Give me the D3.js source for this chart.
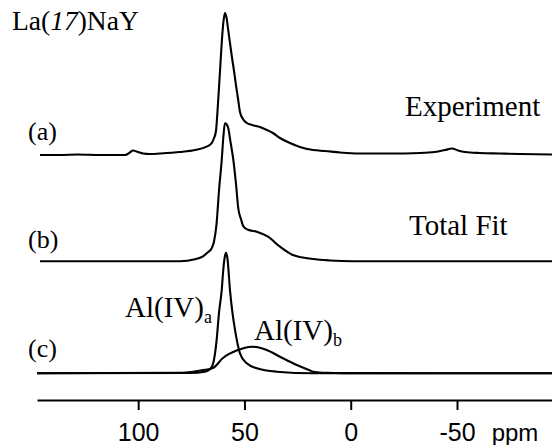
<!DOCTYPE html>
<html>
<head>
<meta charset="utf-8">
<script src="https://cdn.jsdelivr.net/npm/d3@7"></script>
<style>
  html, body { margin: 0; padding: 0; background: #fff; }
  svg { display: block; }
</style>
</head>
<body>
<svg id="chart" width="552" height="445"></svg>
<script>
// ---- data (intensity in arbitrary units) ----
const expPpm = [146.2,136.8,128.3,118.0,106.2,103.9,102.5,100.1,97.7,94.5,89.8,80.3,73.3,67.8,65.4,64.3,63.4,62.4,61.5,60.6,59.9,59.2,58.4,57.7,56.8,55.9,54.9,54.0,53.0,52.1,50.7,48.9,46.4,42.7,39.4,36.6,33.3,28.6,23.9,17.7,12.1,5.0,-4.4,-18.5,-32.6,-39.6,-44.4,-47.7,-50.5,-53.8,-60.8,-70.2,-79.6,-94.7];
const expInt = [0,0,0.5,0,0,2.5,4.5,3,1.5,1,1.5,3,5,8.3,12,17,24,53,84,115,133,142,137,126,112,98,84,70,56,43,36,32,30,28,25,22,17,12,8,5,4,2.5,1.5,1.5,2,3,5,6.5,4.5,3,2,1.5,1,0.5];

const fitPpm = [146.2,80.3,73.3,69.5,67.2,65.4,64.3,63.1,62.0,60.7,59.9,59.2,58.4,57.6,56.6,55.2,54.0,52.9,51.6,50.5,48.3,44.2,38.9,33.3,27.2,17.8,9.7,-0.6,-94.7];
const fitInt = [0,0,2,5,9,13,20,38,70,101,125,138,137,133,120,101,78,53,42,35,31.5,29.6,24.6,14.6,6.3,2.3,0.8,0,0];

const aPpm = [147.6,75.6,68.6,66.2,64.7,63.1,62.0,60.7,59.9,59.2,58.7,58.0,56.8,55.6,54.4,52.1,48.9,44.2,34.8,17.7,-94.7];
const aInt = [0,0.3,1.5,4,10,33,60,83,105,117,120.6,115,83,60,43,20,10,5,1.6,0,0];

const bPpm = [147.6,80.3,74.2,68.6,64.8,60.1,53.0,49.7,46.6,43.2,39.5,33.3,25.4,19.6,17.7,11.3,3.6,-94.7];
const bInt = [0,0.5,1.6,3.5,5.3,15.3,23.3,25.6,26.6,25.8,23.3,16.6,8.3,3.3,1.6,0.5,0.2,0];

const traceOffsets = [218.3, 112, 0, 0];      // (a) Experiment, (b) Total Fit, (c) components
const tickValues = [100, 50, 0, -50];
const axisUnit = "ppm";

// ---- drawing ----
const svg = d3.select("#chart");
const x = d3.scaleLinear().domain([147.6, -94.7]).range([37, 552]);
const y = d3.scaleLinear().domain([0, 360]).range([373.3, 13.3]);

const series = [
  {ppm: expPpm, val: expInt, off: traceOffsets[0]},
  {ppm: fitPpm, val: fitInt, off: traceOffsets[1]},
  {ppm: aPpm,   val: aInt,   off: traceOffsets[2]},
  {ppm: bPpm,   val: bInt,   off: traceOffsets[3]}
];

const line = d3.line()
  .x(d => x(d[0]))
  .y(d => y(d[1]))
  .curve(d3.curveMonotoneX);

series.forEach(s => {
  const pts = s.ppm.map((p, i) => [p, s.val[i] + s.off]);
  svg.append("path")
    .attr("d", line(pts))
    .attr("fill", "none")
    .attr("stroke", "#000")
    .attr("stroke-width", 2.1)
    .attr("stroke-linejoin", "round");
});

// axis
const axis = d3.axisBottom(x)
  .tickValues(tickValues)
  .tickSize(10)
  .tickSizeOuter(0)
  .tickFormat(d => String(d));

const gAxis = svg.append("g").attr("transform", "translate(0,400)").call(axis);
gAxis.select(".domain").attr("stroke-width", 2);
gAxis.selectAll(".tick line").attr("stroke-width", 2);
gAxis.selectAll(".tick text")
  .attr("y", 41).attr("dy", null)
  .attr("font-family", "'Liberation Sans', Arial, sans-serif")
  .attr("font-size", 25)
  .attr("fill", "#000");

svg.append("text")
  .attr("x", 515).attr("y", 441)
  .attr("text-anchor", "middle")
  .attr("font-family", "'Liberation Sans', Arial, sans-serif")
  .attr("font-size", 24)
  .text(axisUnit);

// serif labels
const serif = "'Liberation Serif', 'Times New Roman', serif";
function label(xp, yp, size) {
  return svg.append("text").attr("x", xp).attr("y", yp)
    .attr("font-family", serif).attr("font-size", size).attr("fill", "#000");
}

const t0 = label(12, 30, 27.5);
t0.append("tspan").text("La(");
t0.append("tspan").attr("font-style", "italic").text("17");
t0.append("tspan").text(")NaY");

label(28, 140, 26).text("(a)");
label(28, 248, 26).text("(b)");
label(28, 357, 26).text("(c)");

label(405, 116, 29).text("Experiment");
label(409, 235, 29).text("Total Fit");

const la = label(125, 317, 29);
la.append("tspan").text("Al(IV)");
la.append("tspan").attr("font-size", 18).attr("dy", 6).text("a");

const lb = label(254, 340, 29);
lb.append("tspan").text("Al(IV)");
lb.append("tspan").attr("font-size", 18).attr("dy", 6).text("b");
</script>
</body>
</html>
